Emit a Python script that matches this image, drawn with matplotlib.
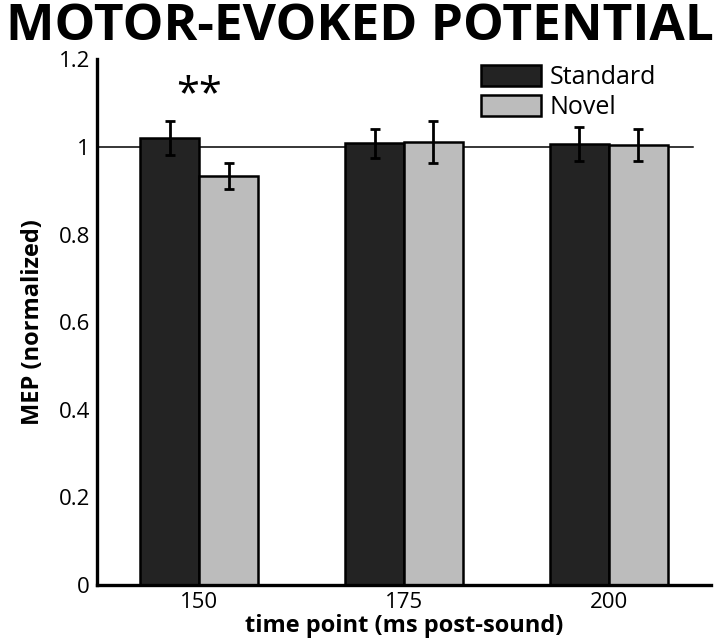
import matplotlib
matplotlib.use("Agg")
import matplotlib.pyplot as plt
from matplotlib import font_manager
import numpy as np

categories = ["150", "175", "200"]
standard = [1.020, 1.008, 1.007]
standard_err = [0.039, 0.034, 0.038]
novel = [0.934, 1.011, 1.005]
novel_err = [0.029, 0.048, 0.036]
yticks = [0, 0.2, 0.4, 0.6, 0.8, 1.0, 1.2]
ytick_labels = ["0", "0.2", "0.4", "0.6", "0.8", "1", "1.2"]

names = {f.name for f in font_manager.fontManager.ttflist}
body = "Open Sans" if "Open Sans" in names else "DejaVu Sans"
plt.rcParams["font.family"] = [body, "DejaVu Sans"]

fig = plt.figure(figsize=(7.2, 6.44), dpi=100)
ax = fig.add_axes([97/720, 1-585/644, (711-97)/720, (585-59.4)/644])

x = np.arange(len(categories))
w = 0.288
dark = "#232323"
light = "#bcbcbc"
ax.bar(x - w/2, standard, w, color=dark, edgecolor="black", linewidth=1.8, label="Standard", zorder=3)
ax.bar(x + w/2, novel, w, color=light, edgecolor="black", linewidth=1.8, label="Novel", zorder=3)
ax.errorbar(x - w/2, standard, yerr=standard_err, fmt="none", ecolor="black", elinewidth=2, capsize=3.5, capthick=2, zorder=4)
ax.errorbar(x + w/2, novel, yerr=novel_err, fmt="none", ecolor="black", elinewidth=2, capsize=3.5, capthick=2, zorder=4)
ax.axhline(1.0, xmin=0, xmax=0.971, color="black", linewidth=1.1, zorder=2)

ax.text(x[0], 1.118, "**", ha="center", va="center", fontsize=30, fontweight="normal")

ax.set_xlim(-0.5, 2.5)
ax.set_ylim(0, 1.2)
ax.set_xticks(x)
ax.set_xticklabels(categories, fontsize=16)
ax.set_yticks(yticks)
ax.set_yticklabels(ytick_labels, fontsize=16)
ax.tick_params(length=0, pad=5)
for s in ["top", "right"]:
    ax.spines[s].set_visible(False)
for s in ["left", "bottom"]:
    ax.spines[s].set_linewidth(2.4)
    ax.spines[s].set_zorder(5)

ax.set_xlabel("time point (ms post-sound)", fontsize=17, fontweight="bold", labelpad=1)
ax.set_ylabel("MEP (normalized)", fontsize=17, fontweight="bold", labelpad=10)

leg = ax.legend(loc="upper left", bbox_to_anchor=(481/720, 1-65/644), bbox_transform=fig.transFigure,
                frameon=False, fontsize=18, handlelength=2.4, handleheight=0.9,
                handletextpad=0.35, labelspacing=0.2, borderpad=0, borderaxespad=0)

title = fig.text(0.5, 1-40/644, "MOTOR-EVOKED POTENTIAL", ha="center", va="baseline",
                 fontsize=40, fontweight="bold")
fig.canvas.draw()
bb = title.get_window_extent(fig.canvas.get_renderer())
title.set_fontsize(40 * 708 / bb.width)

fig.savefig("out.png", dpi=100)
